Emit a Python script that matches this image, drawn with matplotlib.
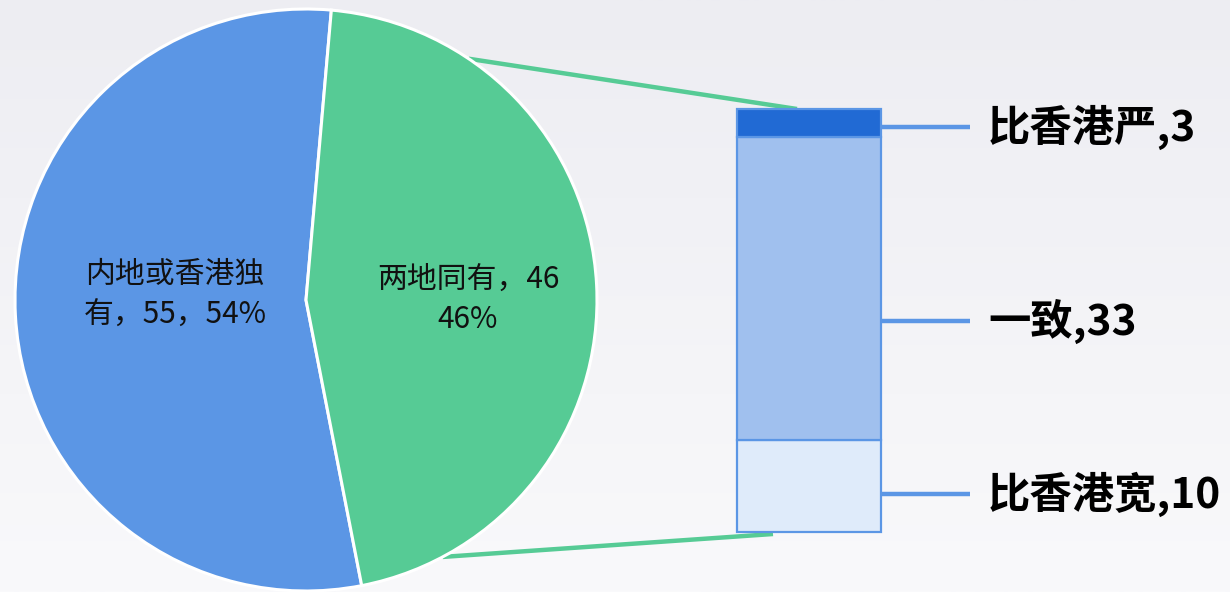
import numpy as np
import matplotlib
matplotlib.use("Agg")
import matplotlib.pyplot as plt
from matplotlib.colors import LinearSegmentedColormap

plt.rcParams['font.family'] = ['Noto Sans CJK SC', 'DejaVu Sans']

# ---- data ----
pie_categories = ["内地或香港独有", "两地同有"]
pie_values = [55, 46]
bar_categories = ["比香港宽", "一致", "比香港严"]   # bottom -> top
bar_values = [10, 33, 3]

pie_colors = ["#5B96E5", "#56CB95"]
bar_colors = ["#DFEBFA", "#A0C0EE", "#216AD4"]

W, H = 1230, 592
fig = plt.figure(figsize=(W / 100, H / 100), dpi=100)
ax = fig.add_axes([0, 0, 1, 1])

# background gradient (darker at top)
grad = np.linspace(0, 1, 256).reshape(-1, 1)
cmap = LinearSegmentedColormap.from_list("bg", ["#EDEDF2", "#F9F9FB"])
ax.imshow(grad, cmap=cmap, extent=(0, W, 0, H), aspect='auto', zorder=0)

# ---- pie ----
cx, cy, R = 306, H - 300, 291
total = sum(pie_values)
startangle = 85 - 360 * pie_values[1] / total
wedges, _ = ax.pie(pie_values, colors=pie_colors, startangle=startangle,
                   counterclock=False, center=(cx, cy), radius=R,
                   wedgeprops=dict(edgecolor="white", linewidth=2.2),
                   frame=True)
for w in wedges:
    w.set_zorder(3)

pcts = [round(v / total * 100) for v in pie_values]
ax.text(175, H - 295, f"{pie_categories[0][:6]}\n{pie_categories[0][6:]}，{pie_values[0]}，{pcts[0]}%",
        ha="center", va="center", fontsize=21.5, linespacing=1.38, color="#111111", zorder=5)
ax.text(468, H - 299, f"{pie_categories[1]}，{pie_values[1]}\n{pcts[1]}%",
        ha="center", va="center", fontsize=21.5, linespacing=1.38, color="#111111", zorder=5)

# ---- stacked bar ----
bar_x, bar_w = 809, 144
bar_bottom_px, bar_top_px = H - 532, H - 109
scale = (bar_top_px - bar_bottom_px) / sum(bar_values)
bottoms = np.concatenate([[0], np.cumsum(bar_values)[:-1]])
ax.bar([bar_x] * len(bar_values), np.array(bar_values) * scale,
       bottom=bar_bottom_px + bottoms * scale, width=bar_w,
       color=bar_colors, edgecolor="#5B96E5", linewidth=1.6, zorder=3)

# connector lines pie -> bar
for ang, (ex, ey) in [(56, (797, bar_top_px)), (-62, (773, bar_bottom_px - 2))]:
    sx = cx + R * np.cos(np.radians(ang))
    sy = cy + R * np.sin(np.radians(ang))
    ax.plot([sx, ex], [sy, ey], color="#56CB95", lw=3.2, zorder=2,
            solid_capstyle="butt")

# labels with leader lines
label_y_px = [494, 321, 127]
for cat, val, ly in zip(bar_categories, bar_values, label_y_px):
    y = H - ly
    ax.plot([bar_x + bar_w / 2, 970], [y, y], color="#5B96E5", lw=3.2, zorder=2,
            solid_capstyle="butt")
    ax.text(988, y, f"{cat},{val}", ha="left", va="center", fontsize=30.5,
            fontweight="bold", color="#000000", zorder=5)

ax.set_xlim(0, W)
ax.set_ylim(0, H)
ax.set_aspect('auto')
ax.axis('off')

fig.savefig("out.png", dpi=100)
